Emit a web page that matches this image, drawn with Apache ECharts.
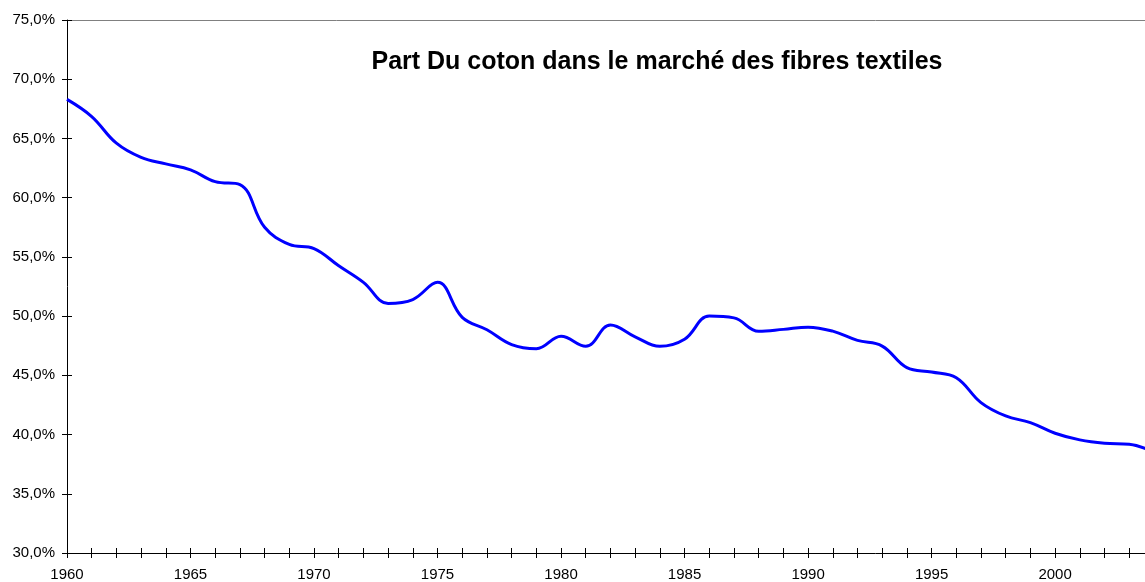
<!DOCTYPE html>
<html>
<head>
<meta charset="utf-8">
<script src="https://cdn.jsdelivr.net/npm/echarts@6/dist/echarts.min.js"></script>
<style>
html, body { margin: 0; padding: 0; background: #fff; }
#chart { width: 1145px; height: 582px; }
</style>
</head>
<body>
<div id="chart"></div>
<script>
// annees et part du coton (%)
var years = [1960, 1961, 1962, 1963, 1964, 1965, 1966, 1967, 1968, 1969,
	1970, 1971, 1972, 1973, 1974, 1975, 1976, 1977, 1978, 1979,
	1980, 1981, 1982, 1983, 1984, 1985, 1986, 1987, 1988, 1989,
	1990, 1991, 1992, 1993, 1994, 1995, 1996, 1997, 1998, 1999,
	2000, 2001, 2002, 2003, 2004];
var cotonShare = [68.3, 66.85, 64.6, 63.4, 62.85, 62.35, 61.35, 61.1, 57.5, 56.05,
	55.7, 54.25, 52.85, 51.07, 51.4, 52.85, 49.9, 48.85, 47.6, 47.25,
	48.3, 47.45, 49.25, 48.25, 47.45, 48.05, 50.0, 49.85, 48.72, 48.88,
	49.07, 48.73, 47.95, 47.47, 45.65, 45.28, 44.8, 42.7, 41.57, 41.01,
	40.11, 39.55, 39.27, 39.19, 38.5];

var titleText = 'Part Du coton dans le marché des fibres textiles';

var points = [];
for (var i = 0; i < years.length; i++) {
	points.push([years[i], cotonShare[i]]);
}

function pctLabel(v) {
	return v.toFixed(1).replace('.', ',') + '%';
}

function yearLabel(v) {
	return (v % 5 === 0) ? String(v) : '';
}

var chart = echarts.init(document.getElementById('chart'));

var baseX = {
	type: 'value',
	min: 1960,
	max: 2003.64,
	interval: 1,
	splitLine: { show: false }
};
var baseY = {
	type: 'value',
	min: 30,
	max: 75,
	interval: 5,
	splitLine: { show: false }
};

var option = {
	animation: false,
	backgroundColor: '#fff',
	title: {
		text: titleText,
		left: 652,
		textAlign: 'center',
		top: 45,
		textStyle: {
			fontFamily: 'Liberation Sans, Arial, sans-serif',
			fontSize: 25,
			fontWeight: 'bold',
			color: '#000'
		}
	},
	grid: {
		left: 67,
		top: 20,
		right: 0,
		bottom: 28
	},
	xAxis: [
		Object.assign({}, baseX, {
			position: 'bottom',
			axisLine: { lineStyle: { color: '#000', width: 1 } },
			axisTick: { inside: false, length: 5, lineStyle: { color: '#000' } },
			axisLabel: {
				formatter: yearLabel,
				margin: 14,
				color: '#000',
				fontSize: 15,
				fontFamily: 'Liberation Sans, Arial, sans-serif',
				showMaxLabel: false
			}
		}),
		Object.assign({}, baseX, {
			position: 'bottom',
			axisLine: { show: false },
			axisTick: { inside: true, length: 5, lineStyle: { color: '#000' } },
			axisLabel: { show: false }
		}),
		// bord superieur gris de la zone de trace
		Object.assign({}, baseX, {
			position: 'top',
			axisLine: { show: true, lineStyle: { color: '#808080', width: 1 } },
			axisTick: { show: false },
			axisLabel: { show: false }
		})
	],
	yAxis: [
		Object.assign({}, baseY, {
			position: 'left',
			axisLine: { show: true, lineStyle: { color: '#000', width: 1 } },
			axisTick: { show: true, inside: false, length: 5, lineStyle: { color: '#000' } },
			axisLabel: {
				formatter: pctLabel,
				margin: 12,
				color: '#000',
				fontSize: 15,
				fontFamily: 'Liberation Sans, Arial, sans-serif'
			}
		}),
		Object.assign({}, baseY, {
			position: 'left',
			axisLine: { show: false },
			axisTick: { show: true, inside: true, length: 5, lineStyle: { color: '#000' } },
			axisLabel: { show: false }
		})
	],
	series: [{
		type: 'line',
		xAxisIndex: 0,
		yAxisIndex: 0,
		data: points,
		smooth: 0.4,
		showSymbol: false,
		clip: true,
		lineStyle: { color: '#0000ff', width: 3 }
	}]
};

chart.setOption(option);
</script>
</body>
</html>
